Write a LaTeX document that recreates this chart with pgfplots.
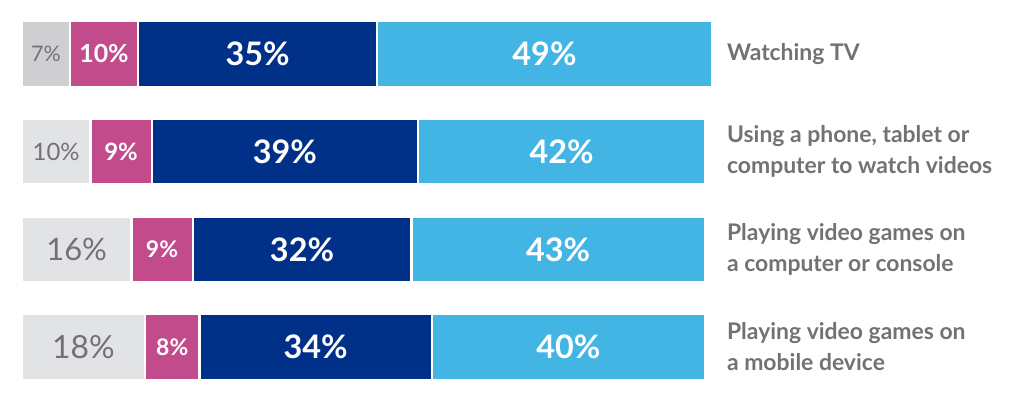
\documentclass[border=0pt]{standalone}
\usepackage{pgfplots}
\pgfplotsset{compat=1.18}
\usepackage{fontspec}
\setmainfont{Lato}
\definecolor{gA}{HTML}{CFCFD1}
\definecolor{gB}{HTML}{E2E3E5}
\definecolor{mag}{HTML}{C24B8C}
\definecolor{navy}{HTML}{003087}
\definecolor{lblue}{HTML}{42B5E4}
\definecolor{txt}{HTML}{727276}
\pgfplotsset{common/.style={width=1024bp,height=400bp,scale only axis,hide axis,
  xmin=-3.22,xmax=146.7,ymin=-0.553,ymax=3.543,y dir=reverse,clip=false}}
\newcommand{\fs}[1]{\fontsize{#1}{#1}\selectfont}
\begin{document}
\begin{tikzpicture}
\begin{axis}[common, xbar stacked, bar width=66bp,
  every axis plot/.append style={draw=white, line width=2.5bp}]
\path (rel axis cs:0,0) rectangle (rel axis cs:1,1);
\addplot[fill=gA] coordinates {(7,0) (0,1) (0,2) (0,3)};
\addplot[fill=gB] coordinates {(0,0) (10,1) (16,2) (18,3)};
\addplot[fill=mag] coordinates {(10,0) (9,1) (9,2) (8,3)};
\addplot[fill=navy] coordinates {(35,0) (39,1) (32,2) (34,3)};
\addplot[fill=lblue] coordinates {(49,0) (42,1) (43,2) (40,3)};
\end{axis}
\begin{axis}[common]
\addplot[draw=none, mark=none, nodes near coords, point meta=explicit symbolic,
  nodes near coords style={text=txt, anchor=center, inner sep=0pt}] coordinates {
  (3.5,0) [{\fs{21.5}7\%}] (5,1) [{\fs{24}10\%}] (8,2) [{\fs{31}16\%}] (9,3) [{\fs{32}18\%}]};
\addplot[draw=none, mark=none, nodes near coords, point meta=explicit symbolic,
  nodes near coords style={text=white, anchor=center, inner sep=0pt, font=\bfseries}] coordinates {
  (12,0) [{\fs{25}10\%}] (14.5,1) [{\fs{24}9\%}] (20.5,2) [{\fs{23}9\%}] (22,3) [{\fs{23}8\%}]
  (34.5,0) [{\fs{32.5}35\%}] (38.5,1) [{\fs{32.5}39\%}] (41,2) [{\fs{32.5}32\%}] (43,3) [{\fs{32.5}34\%}]
  (76.5,0) [{\fs{32.5}49\%}] (79,1) [{\fs{32.5}42\%}] (78.5,2) [{\fs{32.5}43\%}] (80,3) [{\fs{32.5}40\%}]};
\begin{scope}[every node/.style={anchor=west, align=left, text=txt, inner sep=0pt,
  font=\bfseries\fontsize{23}{31}\selectfont}]
\node at (axis cs:103.2,0) {Watching TV};
\node at (axis cs:103.2,1) {Using a phone, tablet or\\computer to watch videos};
\node at (axis cs:103.2,2) {Playing video games on\\a computer or console};
\node at (axis cs:103.2,3) {Playing video games on\\a mobile device};
\end{scope}
\end{axis}
\end{tikzpicture}
\end{document}
